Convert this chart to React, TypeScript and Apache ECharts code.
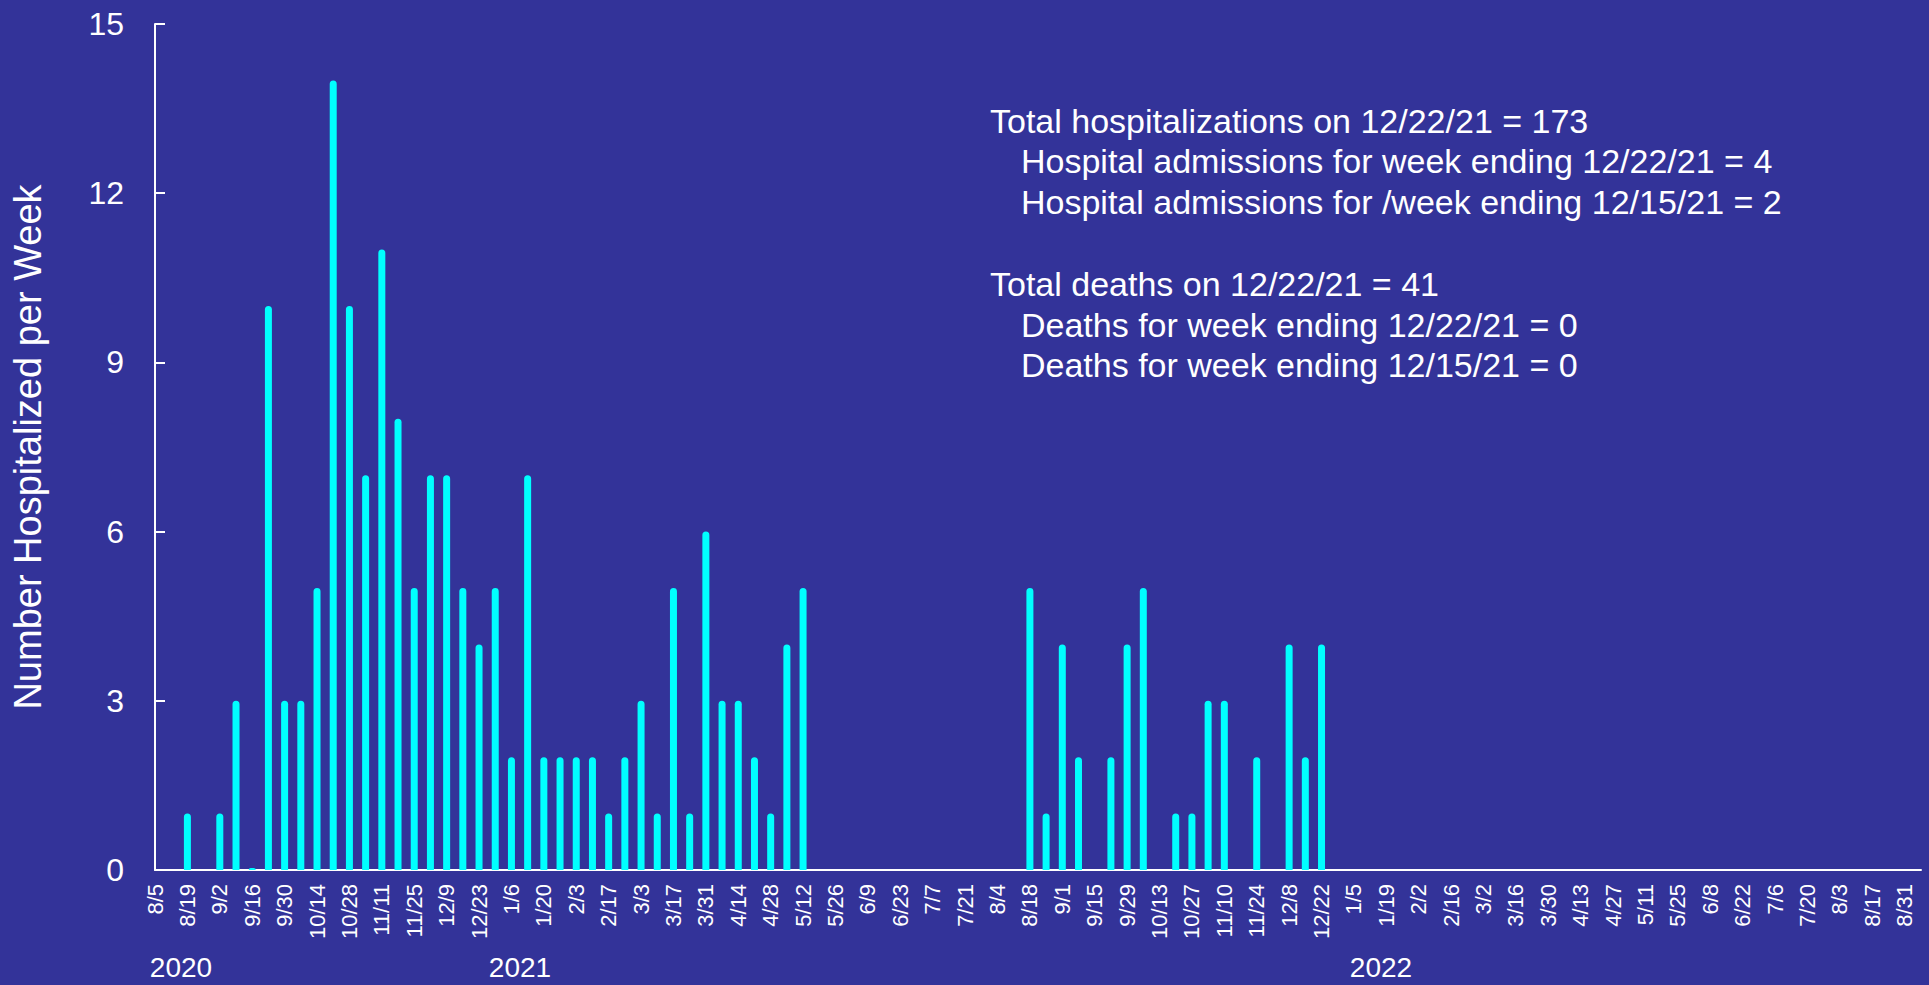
import React, { useEffect, useRef } from "react";
import * as echarts from "echarts";

const weekLabels: string[] = [
  "8/5", "8/12", "8/19", "8/26", "9/2", "9/9", "9/16", "9/23", "9/30", "10/7",
  "10/14", "10/21", "10/28", "11/4", "11/11", "11/18", "11/25", "12/2", "12/9", "12/16",
  "12/23", "12/30",
  "1/6", "1/13", "1/20", "1/27", "2/3", "2/10", "2/17", "2/24", "3/3", "3/10",
  "3/17", "3/24", "3/31", "4/7", "4/14", "4/21", "4/28", "5/5", "5/12", "5/19",
  "5/26", "6/2", "6/9", "6/16", "6/23", "6/30", "7/7", "7/14", "7/21", "7/28",
  "8/4", "8/11", "8/18", "8/25", "9/1", "9/8", "9/15", "9/22", "9/29", "10/6",
  "10/13", "10/20", "10/27", "11/3", "11/10", "11/17", "11/24", "12/1", "12/8", "12/15",
  "12/22", "12/29",
  "1/5", "1/12", "1/19", "1/26", "2/2", "2/9", "2/16", "2/23", "3/2", "3/9",
  "3/16", "3/23", "3/30", "4/6", "4/13", "4/20", "4/27", "5/4", "5/11", "5/18",
  "5/25", "6/1", "6/8", "6/15", "6/22", "6/29", "7/6", "7/13", "7/20", "7/27",
  "8/3", "8/10", "8/17", "8/24", "8/31", "9/7",
];

// weekly hospitalizations (null = no report)
const hospitalized: (number | null)[] = [
  null, null, 1, null, 1, 3, 0, 10, 3, 3,
  5, 14, 10, 7, 11, 8, 5, 7, 7, 5,
  4, 5,
  2, 7, 2, 2, 2, 2, 1, 2, 3, 1,
  5, 1, 6, 3, 3, 2, 1, 4, 5, null,
  null, null, null, null, null, null, null, null, null, null,
  null, null, 5, 1, 4, 2, null, 2, 4, 5,
  null, 1, 1, 3, 3, null, 2, null, 4, 2,
  4, null,
  null, null, null, null, null, null, null, null, null, null,
  null, null, null, null, null, null, null, null, null, null,
  null, null, null, null, null, null, null, null, null, null,
  null, null, null, null, null, null,
];

const yearLabels = ["2020", "2021", "2022"];

const annotationLines = [
  "Total hospitalizations on 12/22/21 = 173",
  "Hospital admissions for week ending 12/22/21 = 4",
  "Hospital admissions for /week ending 12/15/21 = 2",
  "Total deaths on 12/22/21 = 41",
  "Deaths for week ending 12/22/21 = 0",
  "Deaths for week ending 12/15/21 = 0",
];

const FONT = "'Liberation Sans', Arial, Helvetica, sans-serif";

export default function App() {
  const ref = useRef<HTMLDivElement>(null);

  useEffect(() => {
    if (!ref.current) return;
    const chart = echarts.init(ref.current, null, { renderer: "svg" });

    const annX = [990, 1021, 1021, 990, 1021, 1021];
    const annY = [121, 161, 202, 284, 325, 365];
    const yearX = [181, 520, 1381];
    const lastLabeled = weekLabels.length - 2;

    const graphics: any[] = [];
    annotationLines.forEach((t, i) => {
      graphics.push({
        type: "text",
        x: annX[i],
        y: annY[i],
        style: {
          text: t,
          fill: "#ffffff",
          font: `34px ${FONT}`,
          align: "left",
          verticalAlign: "middle",
        },
      });
    });
    yearLabels.forEach((t, i) => {
      graphics.push({
        type: "text",
        x: yearX[i],
        y: 967,
        style: {
          text: t,
          fill: "#ffffff",
          font: `28px ${FONT}`,
          align: "center",
          verticalAlign: "middle",
        },
      });
    });

    chart.setOption({
      animation: false,
      backgroundColor: "#333399",
      textStyle: { fontFamily: FONT },
      grid: {
        left: 155,
        right: 8,
        top: 24,
        bottom: 115,
        containLabel: false,
        outerBoundsMode: "none",
      },
      xAxis: {
        type: "category",
        data: weekLabels,
        boundaryGap: false,
        axisLine: { show: true, lineStyle: { color: "#ffffff", width: 2 } },
        axisTick: { show: false },
        splitLine: { show: false },
        axisLabel: {
          rotate: 90,
          interval: (idx: number) => idx % 2 === 0 && idx <= lastLabeled,
          color: "#ffffff",
          fontSize: 22,
          fontFamily: FONT,
          margin: 14,
          hideOverlap: false,
        },
      },
      yAxis: {
        type: "value",
        min: 0,
        max: 15,
        interval: 3,
        name: "Number Hospitalized per Week",
        nameLocation: "middle",
        nameRotate: 90,
        nameGap: 108,
        nameTextStyle: { color: "#ffffff", fontSize: 38, fontFamily: FONT },
        axisLine: { show: true, lineStyle: { color: "#ffffff", width: 2 } },
        axisTick: { show: true, inside: true, length: 10, lineStyle: { color: "#ffffff", width: 2 } },
        splitLine: { show: false },
        axisLabel: { color: "#ffffff", fontSize: 32, fontFamily: FONT, margin: 31 },
      },
      series: [
        {
          type: "bar",
          data: hospitalized,
          barWidth: 7,
          barMinHeight: 2,
          itemStyle: { color: "#00FFFF", borderRadius: [3.5, 3.5, 0, 0] },
        },
      ],
      graphic: graphics,
    });

    return () => chart.dispose();
  }, []);

  return (
    <div
      ref={ref}
      style={{ position: "fixed", left: 0, top: 0, width: 1929, height: 985 }}
    />
  );
}
